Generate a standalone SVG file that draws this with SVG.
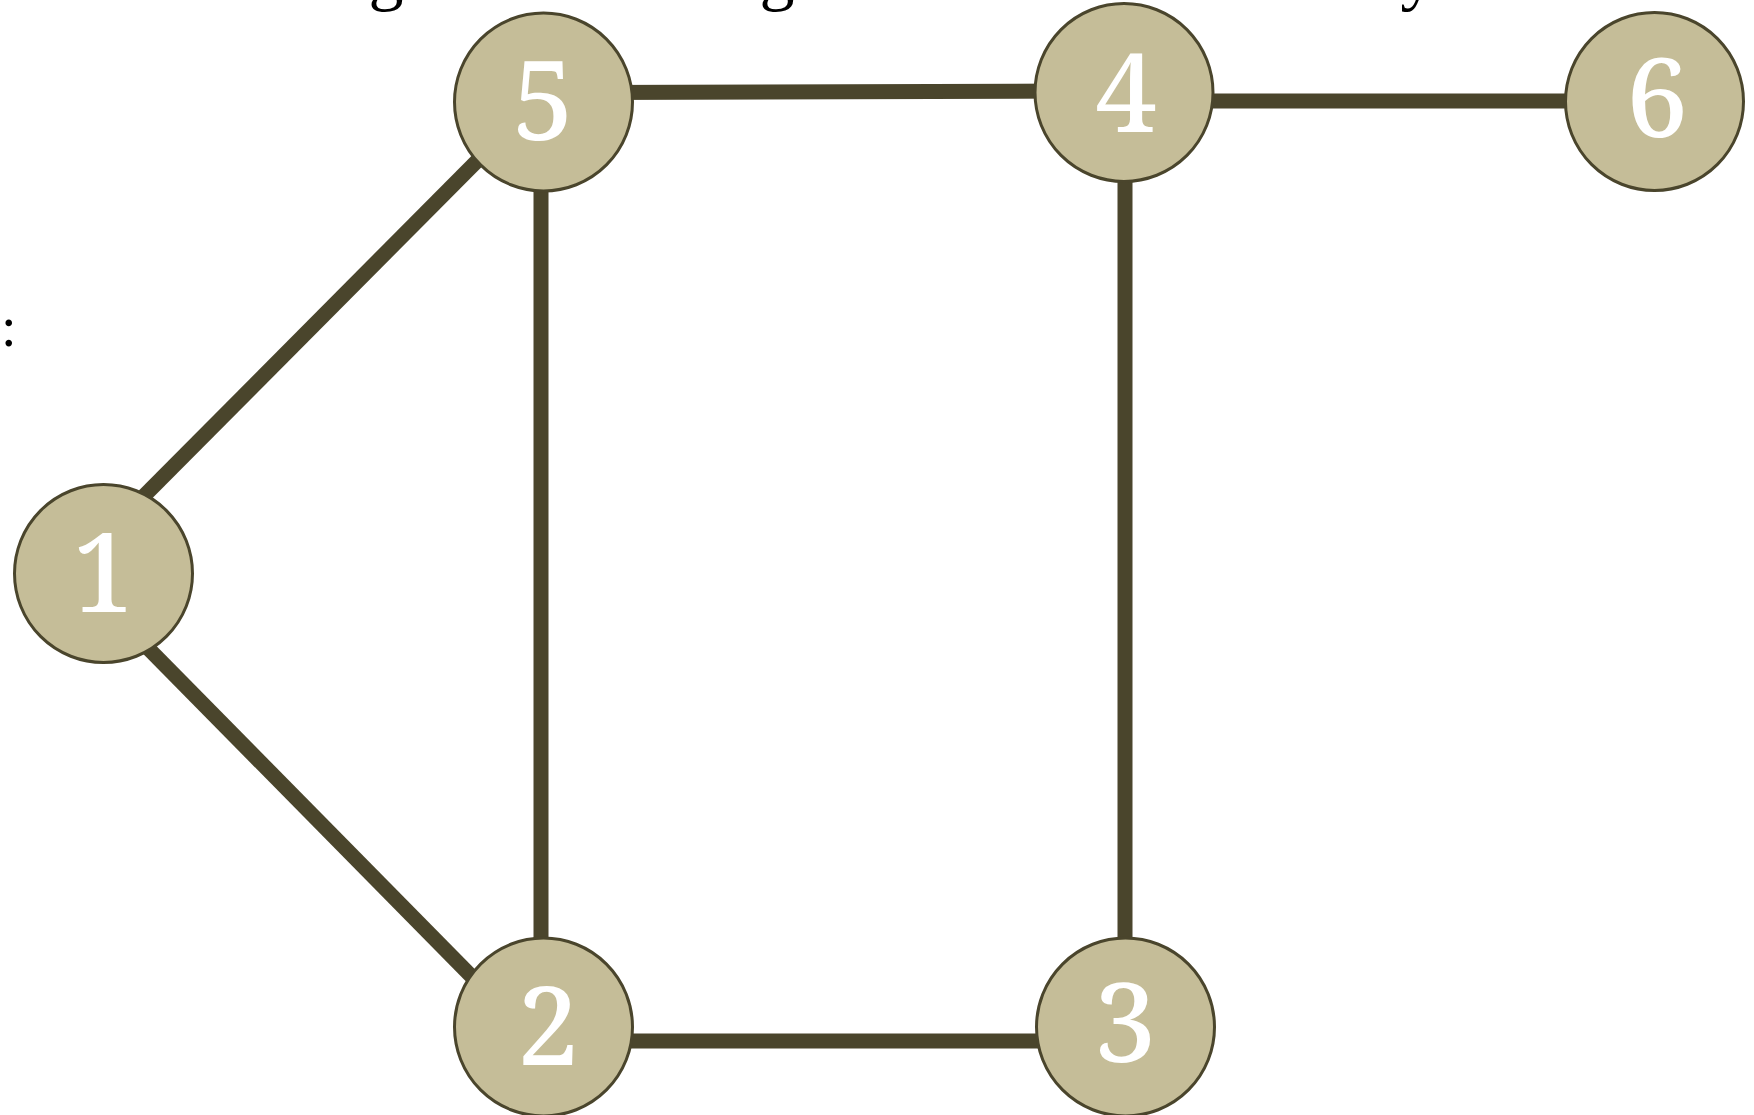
<svg xmlns="http://www.w3.org/2000/svg" width="1754" height="1115" viewBox="0 0 1754 1115">
<style>
.edge{stroke:#4a452c;stroke-width:15;fill:none;stroke-linecap:butt}
.node circle{fill:#c5bd98;stroke:#4a452c;stroke-width:3}
.node text{fill:#ffffff;font-family:"Noto Serif","Liberation Serif",serif;font-size:110px;font-weight:500;text-anchor:middle}
.frag{fill:#000;font-family:"Liberation Serif","Times New Roman",serif}
</style>
<rect width="1754" height="1115" fill="#ffffff"/>
<g id="fragments">
<text class="frag" x="386" y="-3" font-size="70" text-anchor="middle">g</text>
<text class="frag" x="777" y="-3" font-size="70" text-anchor="middle">g</text>
<text class="frag" x="1418" y="-3" font-size="70" text-anchor="middle">y</text>
<text class="frag" x="1" y="346" font-size="56">:</text>
</g>
<g id="connectors">
<line class="edge" x1="135" y1="505" x2="480" y2="158"/>
<line class="edge" x1="140" y1="640" x2="480" y2="985"/>
<line class="edge" x1="541" y1="150" x2="541" y2="980"/>
<line class="edge" x1="600" y1="92.5" x2="1070" y2="91"/>
<line class="edge" x1="1170" y1="101" x2="1600" y2="101"/>
<line class="edge" x1="1125" y1="140" x2="1125" y2="980"/>
<line class="edge" x1="590" y1="1041" x2="1080" y2="1041"/>
</g>
<g id="node1" class="node"><circle cx="103.5" cy="573.5" r="89"/><text x="103" y="612">1</text></g>
<g id="node2" class="node"><circle cx="543.5" cy="1027" r="89"/><text x="548" y="1065">2</text></g>
<g id="node3" class="node"><circle cx="1125.5" cy="1027" r="89"/><text x="1125" y="1062">3</text></g>
<g id="node4" class="node"><circle cx="1124" cy="92.5" r="89"/><text x="1126" y="132">4</text></g>
<g id="node5" class="node"><circle cx="543.5" cy="102" r="89"/><text x="543" y="140">5</text></g>
<g id="node6" class="node"><circle cx="1654.5" cy="101.5" r="89"/><text x="1657" y="137">6</text></g>
</svg>
